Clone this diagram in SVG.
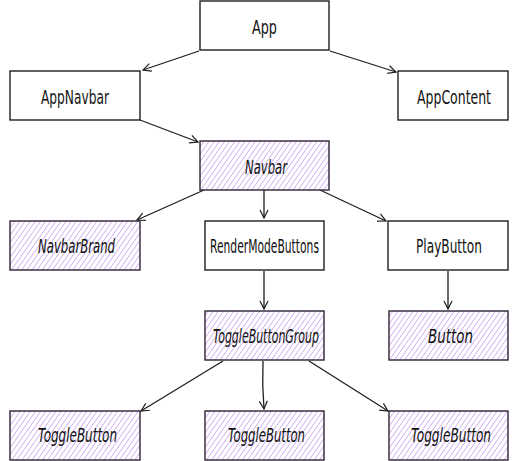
<svg xmlns="http://www.w3.org/2000/svg" width="525" height="461" viewBox="0 0 525 461">
<defs>
<pattern id="hatch" patternUnits="userSpaceOnUse" width="4.2" height="4.2" patternTransform="rotate(35)">
<rect width="4.2" height="4.2" fill="#ffffff"/>
<line x1="0" y1="0" x2="0" y2="4.2" stroke="#c9a2f0" stroke-width="1.5"/>
</pattern>
<marker id="arr" viewBox="0 0 10 10" refX="9" refY="5" markerWidth="10" markerHeight="10" markerUnits="userSpaceOnUse" orient="auto">
<path d="M1,1 L9,5 L1,9" fill="none" stroke="#1e1e1e" stroke-width="1.2"/>
</marker>
<style>
.box{fill:#ffffff;stroke:#1e1e1e;stroke-width:1.4}
.pbox{fill:url(#hatch);stroke:#2e2236;stroke-width:1.4}
.t{font-family:"Liberation Sans Narrow","DejaVu Sans Condensed","Liberation Sans",sans-serif;font-size:19px;fill:#111111;text-anchor:middle}
.i{font-style:italic}
.c{fill:none;stroke:#1e1e1e;stroke-width:1.3;marker-end:url(#arr)}
</style>
</defs>
<g id="connectors">
<path class="c" d="M199,51 L143,70"/>
<path class="c" d="M330,51 L396,72"/>
<path class="c" d="M140,120 L198,142"/>
<path class="c" d="M204,190 L137,220"/>
<path class="c" d="M264,190 L264,218"/>
<path class="c" d="M320,190 L386,221"/>
<path class="c" d="M264,271 L264,309"/>
<path class="c" d="M448,271 L448,309"/>
<path class="c" d="M223,361 L141,411"/>
<path class="c" d="M263,361 Q262,385 264,409"/>
<path class="c" d="M309,361 L388,411"/>
</g>
<g id="App"><rect class="box" x="200" y="1" width="129" height="49"/><text class="t" x="264.5" y="34" textLength="25" lengthAdjust="spacingAndGlyphs">App</text></g>
<g id="AppNavbar"><rect class="box" x="10" y="71" width="130" height="49"/><text class="t" x="75" y="104" textLength="68" lengthAdjust="spacingAndGlyphs">AppNavbar</text></g>
<g id="AppContent"><rect class="box" x="398" y="71" width="110" height="49"/><text class="t" x="454" y="104" textLength="74" lengthAdjust="spacingAndGlyphs">AppContent</text></g>
<g id="Navbar"><rect class="pbox" x="200" y="141" width="129" height="49"/><text class="t i" x="266" y="174" textLength="42" lengthAdjust="spacingAndGlyphs">Navbar</text></g>
<g id="NavbarBrand"><rect class="pbox" x="10" y="221" width="130" height="49"/><text class="t i" x="76.5" y="253" textLength="77" lengthAdjust="spacingAndGlyphs">NavbarBrand</text></g>
<g id="RenderModeButtons"><rect class="box" x="205" y="221" width="119" height="49"/><text class="t" x="264.5" y="253" textLength="109" lengthAdjust="spacingAndGlyphs">RenderModeButtons</text></g>
<g id="PlayButton"><rect class="box" x="388" y="221" width="120" height="49"/><text class="t" x="449" y="253" textLength="66" lengthAdjust="spacingAndGlyphs">PlayButton</text></g>
<g id="ToggleButtonGroup"><rect class="pbox" x="205" y="311" width="119" height="49"/><text class="t i" x="266" y="343" textLength="106" lengthAdjust="spacingAndGlyphs">ToggleButtonGroup</text></g>
<g id="Button"><rect class="pbox" x="389" y="311" width="119" height="49"/><text class="t i" x="450.5" y="343" textLength="45" lengthAdjust="spacingAndGlyphs">Button</text></g>
<g id="ToggleButton1"><rect class="pbox" x="10" y="411" width="130" height="49"/><text class="t i" x="77.5" y="442" textLength="79" lengthAdjust="spacingAndGlyphs">ToggleButton</text></g>
<g id="ToggleButton2"><rect class="pbox" x="205" y="411" width="119" height="49"/><text class="t i" x="266.5" y="442" textLength="77" lengthAdjust="spacingAndGlyphs">ToggleButton</text></g>
<g id="ToggleButton3"><rect class="pbox" x="389" y="411" width="119" height="49"/><text class="t i" x="451" y="442" textLength="80" lengthAdjust="spacingAndGlyphs">ToggleButton</text></g>
</svg>
